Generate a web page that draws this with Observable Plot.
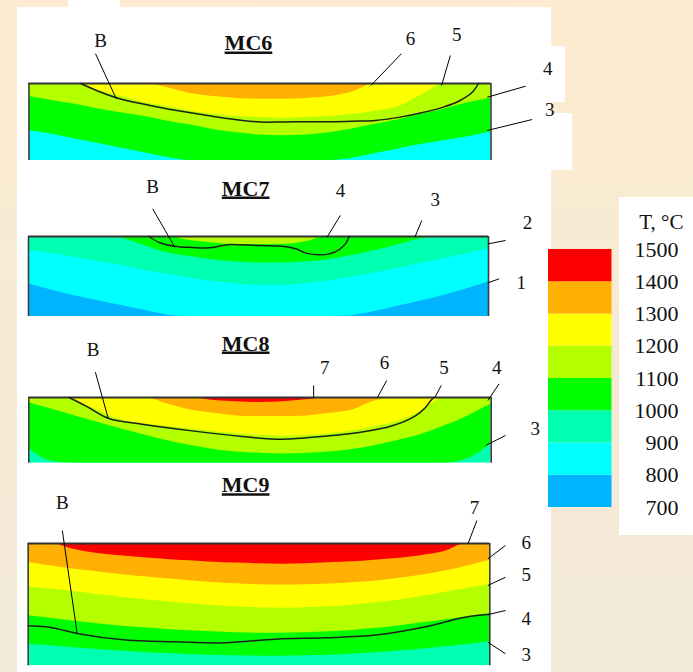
<!DOCTYPE html>
<html><head><meta charset="utf-8">
<script src="https://cdn.jsdelivr.net/npm/d3@7"></script>
<script src="https://cdn.jsdelivr.net/npm/@observablehq/plot@0.6"></script>
<style>
html,body{margin:0;padding:0;background:#f6ead6;}
#fig{position:relative;width:693px;height:672px;overflow:hidden;background:linear-gradient(#fcebd0,#f2e9d8);font-family:"Liberation Serif",serif;}
#fig svg text{font-family:"Liberation Serif","Times New Roman",serif;}
.wb{position:absolute;background:#fff;}
</style></head><body>
<div id="fig">
  <div class="wb" style="left:17px;top:7px;width:534px;height:665px"></div>
  <div class="wb" style="left:68px;top:0;width:52px;height:7px"></div>
  <div class="wb" style="left:551px;top:46px;width:14px;height:56px"></div>
  <div class="wb" style="left:551px;top:113px;width:21px;height:57px"></div>
  <div class="wb" style="left:619px;top:197px;width:74px;height:338px"></div>
</div>
<script>
// ---------- DATA ----------
// position across the specimen, % of its width
const xGrid = [0,5,10,15,20,25,30,35,40,45,50,55,60,65,70,75,80,85,90,95,100];
// temperature bands (°C) and their colours
const bandLabels = ["700–800","800–900","900–1000","1000–1100","1100–1200","1200–1300","1300–1400","1400–1500"];
const bandColors = ["#00b4ff","#00ffff","#00ffb0","#00ff00","#b4ff00","#ffff00","#ffb000","#ff0000"];
const legendTicks = [700,800,900,1000,1100,1200,1300,1400,1500];
const legendTitle = "T, °C";

// isotherm depths (% of specimen thickness) at xGrid, named by the band painted above them
// MC6
const mc6Title = "MC6";
const mc6Base = "800–900";
const mc6Iso1000 = [61,66,72,78,84,90,96,100,100,100,100,100,100,100,97,91,85,79,74,69,63];
const mc6Iso1100 = [17,22,27,33,38,43,49,54,60,64,67,68,67,64,59,53,47,40,33,25,19];
const mc6Iso1200 = [0,0,0,9,17,25,30,36,40,43,44,45,44,43,40,36,30,15,0,0,0];
const mc6Iso1300 = [0,0,0,0,0,0,5.6,13,17,19.5,20.4,20.4,19.5,17,11,0,0,0,0,0,0];
const mc6BoundaryX = [11.2,15,20,25,30,35,40,45,50,55,60,65,70,75,80,85,90,93,96,97.3];
const mc6BoundaryD = [0,10,20.4,27,33,38,43,47,50,50,49.6,49.6,49,48,44,38,30,23,11,0];
const mc6Labels = ["B","6","5","4","3"];

// MC7
const mc7Title = "MC7";
const mc7Base = "700–800";
const mc7Iso800 = [59,67,74,80,86,92,98,100,100,100,100,100,100,100,99,94,87.5,81,74,66,57];
const mc7Iso900 = [17.5,21,26,31,36,42,47,52,56,59,61,61,59,56,51,46,40,34,28,22,15];
const mc7Iso1000 = [0,0,0,0,2,11,20,25,29,32,33,33,32,29,24,18,11,3,0,0,0];
const mc7Iso1100 = [0,0,0,0,0,0,0,5,8,10,10,10,7,0,0,0,0,0,0,0,0];
const mc7BoundaryX = [26.2,28.4,31.7,35.7,39.3,42.2,44,50.1,55.2,58.1,60.3,63.2,65.4,67.5,69,69.7];
const mc7BoundaryD = [0,7.5,12.1,13.75,14.2,11.25,10,11.25,12.1,15.4,20.8,22.9,21.7,16.7,8.3,0];
const mc7Labels = ["B","4","3","2","1"];

// MC8
const mc8Title = "MC8";
const mc8Base = "900–1000";
const mc8Iso1000 = [78,97,100,100,100,100,100,100,100,100,100,100,100,100,100,100,100,100,100,93,70];
const mc8Iso1100 = [8,18,28,38,48,57,66,73,79,83,85,86,85,83,79,73,65,56,43,28,10];
const mc8Iso1200 = [0,0,5,20,34,40,44,48,52,55,58,59,58,55,51,44,36,20,0,0,0];
const mc8Iso1300 = [0,0,0,0,0,0,10,19,24,28,29,29,28,24,19,5,0,0,0,0,0];
const mc8Iso1400 = [0,0,0,0,0,0,0,0,4.6,6.6,7.6,6.6,3.6,0,0,0,0,0,0,0,0];
const mc8BoundaryX = [8.7,12.3,17.3,24.5,35.3,46.1,53.4,60.6,71.4,78.6,83.6,85.8,86.9,87.6];
const mc8BoundaryD = [0,12.7,32,40.6,50.8,59.4,63.5,61,53.3,43.1,27.9,15.2,5,0];
const mc8Labels = ["B","7","6","5","4","3"];

// MC9
const mc9Title = "MC9";
const mc9Base = "900–1000";
const mc9Iso1000 = [82.6,83.7,85.3,86.6,88,89.1,89.9,90.7,91.3,91.8,92.1,92.1,91.8,91.3,90.5,89.4,88,86.4,84.5,82.6,80.4];
const mc9Iso1100 = [59.1,61.3,63.5,65.7,67.6,68.9,70.3,71.4,72.2,73,73.3,73.3,73,72.2,71.1,69.5,67.6,65.1,62.7,59.9,57.2];
const mc9Iso1200 = [35.4,37.3,39.5,41.7,43.9,45.8,47.7,49.3,50.7,51.8,52.6,52.9,52.6,51.8,50.4,48.5,46.3,43.6,40,36.8,33.5];
const mc9Iso1300 = [15.5,18.3,21,23,25.3,27.2,28.9,30.5,31.9,33,33.8,34,33.8,33.2,32,30.8,28.6,25.9,22.6,18.5,13.6];
const mc9Iso1400 = [0,0,5,8.2,10,11.7,13,14.2,15.3,16,16.6,16.9,16.6,15.8,15,13.6,12.3,10,6.8,0,0];
const mc9BoundaryX = [0,3.8,6.6,10.6,21.1,31.9,42.7,53.6,64.4,75.2,86.1,93.3,97.6,100];
const mc9BoundaryD = [67.3,68.1,70,73.6,79,80.4,81.2,78.2,77.1,74.9,68.1,61.3,58.6,58];
const mc9Labels = ["B","7","6","5","4","3"];

// ---------- LAYOUT (positions in panel units: x = % width, y = % depth) ----------
const panels = [
  {title: mc6Title, base: mc6Base,
   isos: [["1000–1100", mc6Iso1000], ["1100–1200", mc6Iso1100], ["1200–1300", mc6Iso1200], ["1300–1400", mc6Iso1300]],
   bx: mc6BoundaryX, bd: mc6BoundaryD, labels: mc6Labels,
   top: 0, height: 172, left: 28.5, right: 490.5, specTop: 83, specBottom: 160,
   titlePos: [47.5, -42.9],
   labelPos: [[15.5,-47.2],[82.6,-49.4],[92.6,-55.8],[112.3,-10.4],[112.7,41.6]],
   leaders: [[14.4,-38.6,18.9,19.9],[80.6,-38.6,74,2.6],[91.2,-36.4,89.3,2.6],[107.5,3.5,99.2,17.8],[108.9,46.8,99.2,61]]},
  {title: mc7Title, base: mc7Base,
   isos: [["800–900", mc7Iso800], ["900–1000", mc7Iso900], ["1000–1100", mc7Iso1000], ["1100–1200", mc7Iso1100]],
   bx: mc7BoundaryX, bd: mc7BoundaryD, labels: mc7Labels,
   top: 172, height: 155, left: 28, right: 488, specTop: 64, specBottom: 144,
   titlePos: [47.2, -51.25],
   labelPos: [[27,-53.8],[67.8,-49],[88.4,-38.75],[108.5,-9.6],[107.1,65.4]],
   leaders: [[27,-34.6,31.8,13.4],[67.8,-26.3,64.9,0.8],[85.5,-20,84,0.8],[103.7,5,99.9,9.2],[102.3,52.9,99.9,57.9]]},
  {title: mc8Title, base: mc8Base,
   isos: [["1000–1100", mc8Iso1000], ["1100–1200", mc8Iso1100], ["1200–1300", mc8Iso1200], ["1300–1400", mc8Iso1300], ["1400–1500", mc8Iso1400]],
   bx: mc8BoundaryX, bd: mc8BoundaryD, labels: mc8Labels,
   top: 327, height: 140, left: 28.3, right: 490.7, specTop: 70, specBottom: 135.7,
   titlePos: [46.9, -71.5],
   labelPos: [[13.9,-63.9],[64,-36],[76.9,-43.7],[89.8,-36.5],[101.2,-36.5],[109.5,57.8]],
   leaders: [[14.4,-38.5,17.2,32.4],[61.6,-18.3,61.6,0],[77.4,-25.9,75.4,0],[89.2,-18.3,87.8,0],[101.7,-20.8,99.3,4.6],[103.1,57.8,98.8,73]]},
  {title: mc9Title, base: mc9Base,
   isos: [["1000–1100", mc9Iso1000], ["1100–1200", mc9Iso1100], ["1200–1300", mc9Iso1200], ["1300–1400", mc9Iso1300], ["1400–1500", mc9Iso1400]],
   bx: mc9BoundaryX, bd: mc9BoundaryD, labels: mc9Labels,
   top: 467, height: 205, left: 27.7, right: 489.3, specTop: 76, specBottom: 198.3,
   titlePos: [47.1, -42],
   labelPos: [[7.4,-28.4],[96.7,-24.3],[107.9,4.3],[107.9,30.3],[107.9,67],[107.9,95.7]],
   leaders: [[7.4,-10.6,10.6,73.6],[97.2,-18.8,95.3,0],[103.4,1.6,99.6,12.5],[103.4,27.6,99.6,34.3],[103.4,54.8,99.6,58.1],[103.4,90.2,99.6,80.7]]}
];

const fig = document.getElementById("fig");
const W = 570;
const font = "Liberation Serif";

function place(svg, left, top) {
  svg.style.position = "absolute";
  svg.style.left = left + "px";
  svg.style.top = top + "px";
  svg.style.maxWidth = "none";
  fig.appendChild(svg);
}

for (const p of panels) {
  const rows = [];
  xGrid.forEach(x => rows.push({x, y: 100, band: p.base}));
  for (const [band, depths] of p.isos) depths.forEach((y, i) => rows.push({x: xGrid[i], y, band}));
  const bLine = p.bx.map((x, i) => ({x, y: p.bd[i]}));
  const ann = p.labels.map((t, i) => ({t, lx: p.labelPos[i][0], ly: p.labelPos[i][1],
    x1: p.leaders[i][0], y1: p.leaders[i][1], x2: p.leaders[i][2], y2: p.leaders[i][3]}));

  const plot = Plot.plot({
    width: W, height: p.height,
    marginLeft: p.left, marginRight: W - p.right,
    marginTop: p.specTop, marginBottom: p.height - p.specBottom,
    x: {domain: [0, 100], axis: null},
    y: {domain: [0, 100], reverse: true, axis: null},
    color: {domain: bandLabels, range: bandColors},
    style: {background: "transparent", fontFamily: font, overflow: "visible"},
    marks: [
      Plot.areaY(rows, {x: "x", y1: 0, y2: "y", z: "band", fill: "band", curve: "monotone-x", clip: true}),
      Plot.ruleX([0, 100], {y1: 0, y2: 100, stroke: "#3d3d3d", strokeWidth: 1.6}),
      Plot.ruleY([0], {stroke: "#333", strokeWidth: 2}),
      Plot.line(bLine, {x: "x", y: "y", curve: "catmull-rom", stroke: "#1c2218", strokeWidth: 1.5}),
      Plot.link(ann, {x1: "x1", y1: "y1", x2: "x2", y2: "y2", stroke: "#000", strokeWidth: 1}),
      Plot.text(ann, {x: "lx", y: "ly", text: "t", fontSize: 19, fontFamily: font, lineAnchor: "bottom", fill: "#111"}),
      Plot.text([p.title], {x: p.titlePos[0], y: p.titlePos[1], text: d => d, fontSize: 22, fontFamily: font, fontWeight: "bold", lineAnchor: "bottom", fill: "#111"})
    ]
  });
  place(plot, 0, p.top);
  // underline the panel title
  const baseY = plot.scale("y").apply(p.titlePos[1]);
  const sr = plot.getBoundingClientRect();
  d3.select(plot).selectAll("text").filter(function() { return this.textContent === p.title; }).each(function() {
    const r = this.getBoundingClientRect();
    d3.select(plot).append("line")
      .attr("x1", r.left - sr.left).attr("x2", r.right - sr.left)
      .attr("y1", baseY + 2.8).attr("y2", baseY + 2.8)
      .attr("stroke", "#111").attr("stroke-width", 2.4);
  });
}

// ---------- LEGEND ----------
const legendRows = bandLabels.map((band, i) => ({band, lo: legendTicks[i], hi: legendTicks[i + 1]}));
const LW = 153, LH = 350;
const legend = Plot.plot({
  width: LW, height: LH,
  marginLeft: 8, marginRight: LW - 71.5, marginTop: 59, marginBottom: LH - 317,
  x: {domain: [0, 1], axis: null},
  y: {domain: [700, 1500], axis: null},
  color: {domain: bandLabels, range: bandColors},
  style: {background: "transparent", fontFamily: font, overflow: "visible"},
  marks: [
    Plot.rect(legendRows, {x1: 0, x2: 1, y1: "lo", y2: "hi", fill: "band"}),
    Plot.text(legendTicks, {y: d => d, text: d => String(d), frameAnchor: "right", textAnchor: "end", dx: 66.5, fontSize: 22, fontFamily: font, fill: "#111"}),
    Plot.text([legendTitle], {text: d => d, frameAnchor: "top-right", textAnchor: "end", lineAnchor: "bottom", dx: 71.5, dy: -21, fontSize: 21, fontFamily: font, fill: "#111"})
  ]
});
place(legend, 540, 190);
</script>
</body></html>
